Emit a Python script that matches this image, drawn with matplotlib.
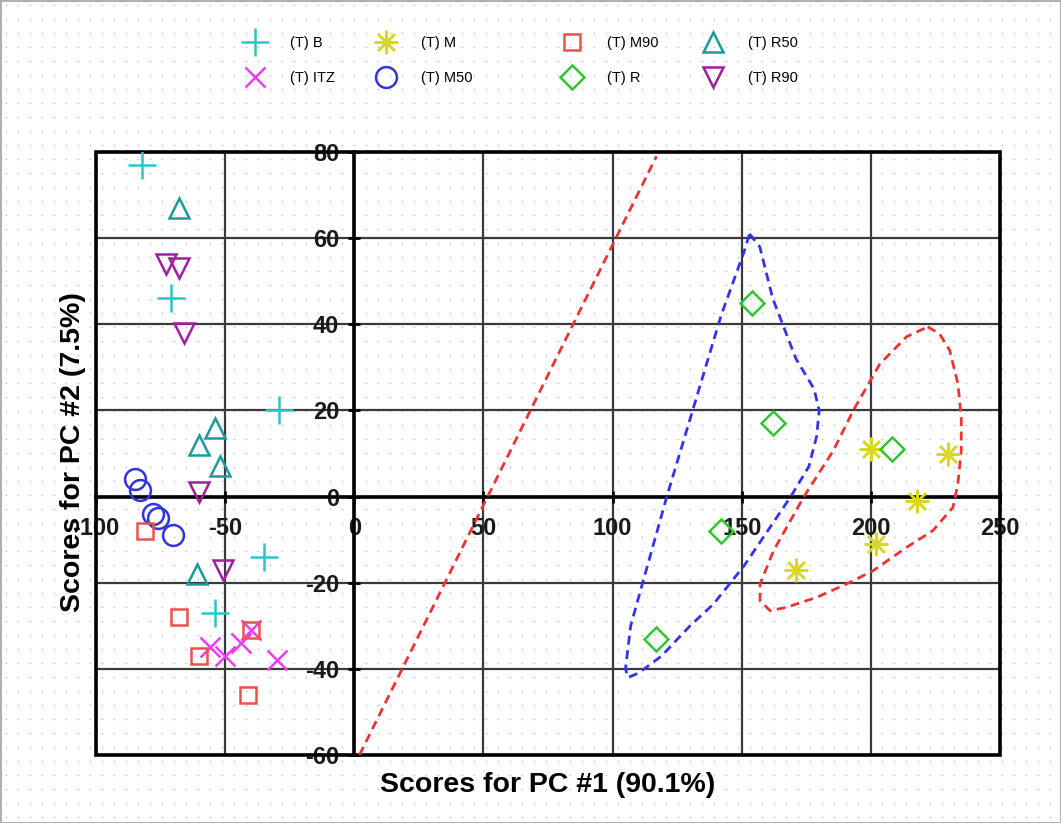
import numpy as np
import matplotlib
matplotlib.use('Agg')
import matplotlib.pyplot as plt
from matplotlib.patches import Rectangle

plt.rcParams['font.family'] = ['Liberation Sans', 'DejaVu Sans']
plt.rcParams['axes.unicode_minus'] = False

# PCA scores
b_x = [-82, -71, -29, -35, -54]
b_y = [77, 46, 20, -14, -27]
itz_x = [-56, -50, -44, -40, -30]
itz_y = [-35, -37, -34, -31, -38]
m_x = [200, 230, 218, 202, 171]
m_y = [11, 10, -1, -11, -17]
m50_x = [-85, -83, -78, -76, -70]
m50_y = [4, 1.5, -4, -5, -9]
m90_x = [-81, -68, -60, -40, -41]
m90_y = [-8, -28, -37, -31, -46]
r_x = [154, 162, 208, 142, 117]
r_y = [45, 17, 11, -8, -33]
r50_x = [-68, -60, -54, -52, -61]
r50_y = [67, 12, 16, 7, -18]
r90_x = [-73, -68, -66, -60, -51]
r90_y = [54, 53, 38, 1, -17]

# dashed separators / group outlines
line_x = [2, 117]
line_y = [-60, 79]
blue_x = [153, 157, 162, 171, 178, 180, 179, 176, 169, 160, 151, 139, 130, 119, 110, 106, 105, 107, 114, 121, 131, 142, 151, 153]
blue_y = [61, 58, 46, 32, 25, 20, 14, 7, 0, -8, -16, -25, -30, -37, -41, -42, -40, -30, -15, 0, 20, 42, 57, 61]
red_x = [222, 226.6, 230.5, 233.7, 235, 235, 233.7, 231.8, 224, 213.8, 200.9, 190.6, 179, 167.4, 161, 157.1, 157.1, 162.3, 173.9, 185.5, 193.2, 203.5, 213.8, 222]
red_y = [39.4, 37.8, 34, 26.2, 18.4, 10.7, 3, -2.5, -7.9, -11.8, -17.2, -20.3, -23.4, -25.7, -26.5, -24.2, -20.3, -12.6, -0.2, 10.7, 20, 30.8, 37.1, 39.4]

x_ticks = [-100, -50, 0, 50, 100, 150, 200, 250]
y_ticks = [-60, -40, -20, 0, 20, 40, 60, 80]

W, H = 1061, 823
fig = plt.figure(figsize=(W / 100, H / 100), dpi=100)
fig.patch.set_facecolor('white')

# dotted paper background
bg = fig.add_axes([0, 0, 1, 1], zorder=0)
bg.set_xlim(0, W)
bg.set_ylim(H, 0)
bg.axis('off')
gx, gy = np.meshgrid(np.arange(6, W, 12), np.arange(5, H, 14))
bg.scatter(gx.ravel(), gy.ravel(), s=1.3, color='#c0c0c0', linewidths=0)
bg.add_patch(Rectangle((0.5, 0.5), W - 1, H - 1, fill=False, edgecolor='#b0b0b0', lw=1.5))

ax = fig.add_axes([96 / W, 68 / H, 904 / W, 603 / H], zorder=1)
ax.set_facecolor('none')
ax.set_xlim(-100, 250)
ax.set_ylim(-60, 80)
ax.set_xticks(x_ticks)
ax.set_yticks(y_ticks)
ax.grid(True, color='#3a3a3a', lw=1.6, zorder=1)
ax.set_axisbelow(True)

ax.spines['left'].set_position(('data', 0))
ax.spines['bottom'].set_position(('data', 0))
for s in ['left', 'bottom']:
    ax.spines[s].set_linewidth(2.6)
    ax.spines[s].set_color('black')
for s in ['top', 'right']:
    ax.spines[s].set_visible(False)
ax.add_patch(Rectangle((0, 0), 1, 1, transform=ax.transAxes, fill=False,
                       edgecolor='black', lw=2.6, zorder=2, clip_on=False))
ax.tick_params(axis='both', direction='inout', length=8, width=2)
ax.tick_params(axis='y', pad=7)
ax.tick_params(axis='x', pad=11)
for lab in ax.get_xticklabels() + ax.get_yticklabels():
    lab.set_family(['Liberation Sans Narrow', 'Liberation Sans'])
    lab.set_fontsize(17)
    lab.set_fontweight('bold')
    lab.set_color('#1a1a1a')

dash = (0, (3.2, 2))
ax.plot(line_x, line_y, color='#ee3333', lw=2, ls=dash, zorder=3)
ax.plot(blue_x, blue_y, color='#3333ee', lw=2, ls=dash, zorder=3)
ax.plot(red_x, red_y, color='#ee3333', lw=2, ls=dash, zorder=3)

series = [
    ('(T) B', b_x, b_y, '+', '#2cc6c6', 20),
    ('(T) ITZ', itz_x, itz_y, 'x', '#f03cf0', 15),
    ('(T) M', m_x, m_y, (8, 2, 0), '#d8d81c', 17),
    ('(T) M50', m50_x, m50_y, 'o', '#3434dc', 15),
    ('(T) M90', m90_x, m90_y, 's', '#ee5050', 12),
    ('(T) R', r_x, r_y, 'D', '#2ec82e', 12),
    ('(T) R50', r50_x, r50_y, '^', '#1a9c9c', 14),
    ('(T) R90', r90_x, r90_y, 'v', '#a01ea0', 14),
]
handles = []
for label, xs, ys, mk, col, ms in series:
    h, = ax.plot(xs, ys, ls='none', marker=mk, ms=ms, mfc='none', mec=col,
                 mew=1.8, label=label, zorder=4)
    handles.append(h)

# legend: four columns placed separately
col_x = [240, 371, 557, 698]
for i, x0 in enumerate(col_x):
    fig.legend(handles[2 * i:2 * i + 2], [s[0] for s in series[2 * i:2 * i + 2]],
               loc='upper left', bbox_to_anchor=(x0 / W, 1 - 36 / H),
               frameon=False, fontsize=10.5, handlelength=2.0,
               handletextpad=1.45, labelspacing=1.45, borderpad=0,
               borderaxespad=0)

fig.text(548 / W, 1 - 785 / H, 'Scores for PC #1 (90.1%)', ha='center', va='center',
         fontsize=20.5, fontweight='bold')
fig.text(73 / W, 1 - 452 / H, 'Scores for PC #2 (7.5%)', ha='center', va='center',
         rotation=90, fontsize=20.5, fontweight='bold', zorder=5)

plt.savefig('out.png', dpi=100)
